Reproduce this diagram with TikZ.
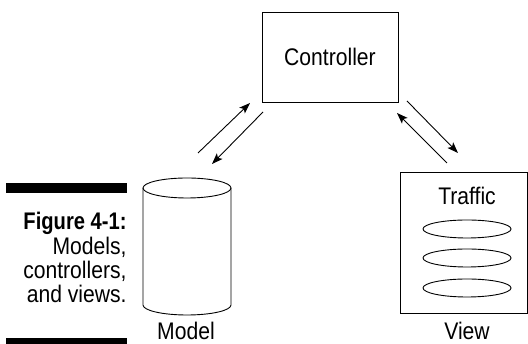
\documentclass[tikz,border=0pt]{standalone}
\usepackage{fontspec}
\setmainfont{Liberation Sans}[FakeStretch=0.88, BoldFeatures={FakeStretch=0.84}]
\usetikzlibrary{arrows.meta,shapes.geometric}
\begin{document}
\begin{tikzpicture}[x=1pt,y=1pt,
  line width=0.9pt,
  every node/.style={font=\fontsize{24}{25}\selectfont, inner sep=0pt},
  box/.style={draw, rectangle},
  disc/.style={draw, ellipse, minimum width=88pt, minimum height=18pt},
  flow/.style={-{Stealth[length=11pt,width=8pt,inset=2.5pt]}},
  caption/.style={anchor=base east}]
\useasboundingbox (0,0) rectangle (528,344);
% caption bars
\fill (6,151) rectangle (127,161);
\fill (6,0) rectangle (127,6);
\node[caption] (cap1) at (127,114) {\textbf{Figure 4-1:}};
\node[caption] (cap2) at (127,89) {Models,};
\node[caption] (cap3) at (127,65) {controllers,};
\node[caption] (cap4) at (127,41) {and views.};
% controller
\node[box, minimum width=136pt, minimum height=90pt] (ctrl) at (330,287) {Controller};
% model cylinder
\node (model) at (187,97.5) [minimum width=88pt, minimum height=137pt] {};
\draw (143,156) arc[start angle=180, end angle=-180, x radius=44, y radius=10];
\draw (143,156) -- (143,39) arc[start angle=180, end angle=360, x radius=44, y radius=10] -- (231,156);
\node[anchor=base] (modellbl) at (186,4) {Model};
% view
\node[box, minimum width=127pt, minimum height=141pt] (view) at (463.5,101.5) {};
\node[anchor=base] (traffic) at (467,139) {Traffic};
\node[disc] (e1) at (467,115) {};
\node[disc] (e2) at (467,86) {};
\node[disc] (e3) at (467,56) {};
\node[anchor=base] (viewlbl) at (467,4) {View};
% arrows
\coordinate (a1s) at (198,191); \coordinate (a1e) at (250,241);
\coordinate (a2s) at (263,232); \coordinate (a2e) at (212,180);
\coordinate (a3s) at (407,243); \coordinate (a3e) at (458,191);
\coordinate (a4s) at (447,181); \coordinate (a4e) at (397,231);
\draw[flow] (a1s) -- (a1e);
\draw[flow] (a2s) -- (a2e);
\draw[flow] (a3s) -- (a3e);
\draw[flow] (a4s) -- (a4e);
\end{tikzpicture}
\end{document}
